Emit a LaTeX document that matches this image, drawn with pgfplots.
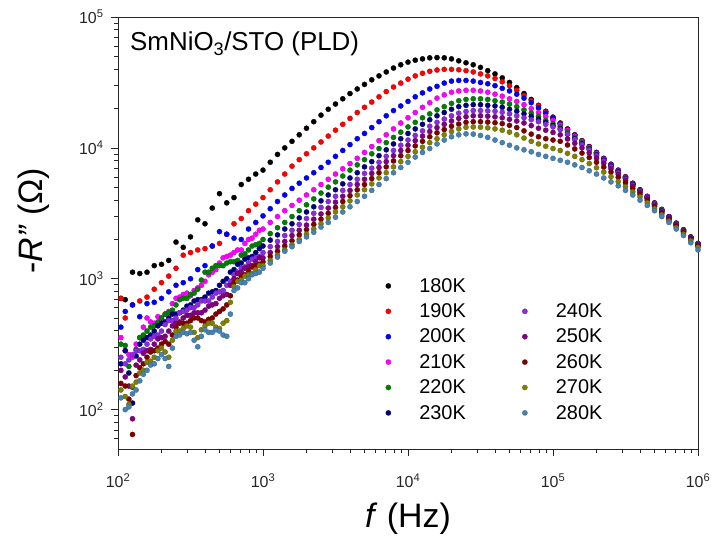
\documentclass[border=0pt]{standalone}
\usepackage{fontspec}
\setmainfont{Liberation Sans}
\usepackage{pgfplots}
\usepackage{pgfplotstable}
\pgfplotsset{compat=1.18}

\definecolor{c18}{RGB}{0,0,0}
\definecolor{c19}{RGB}{255,0,0}
\definecolor{c20}{RGB}{0,0,255}
\definecolor{c21}{RGB}{255,0,255}
\definecolor{c22}{RGB}{0,128,0}
\definecolor{c23}{RGB}{0,0,128}
\definecolor{c24}{RGB}{138,43,226}
\definecolor{c25}{RGB}{128,0,128}
\definecolor{c26}{RGB}{128,0,0}
\definecolor{c27}{RGB}{128,128,0}
\definecolor{c28}{RGB}{70,130,180}

% log10(f / Hz) and log10(-R'' / Ohm) for T = 180 ... 280 K
\pgfplotstableread{
lf    T180  T190  T200  T210  T220  T230  T240  T250  T260  T270  T280
2.02  2.85  2.85  2.63  2.55  2.50  2.35  2.40  2.30  2.20  2.15  2.09
2.05  2.84  2.70  2.75  2.45  2.49  2.45  2.35  2.25  2.18  2.10  2.00
2.075 nan   nan   nan   2.42  2.33  2.28  2.38  2.18  2.08  2.04  2.02
2.10  3.05  2.80  2.80  2.40  2.17  2.05  2.42  1.93  1.81  2.18  2.12
2.125 nan   nan   nan   2.50  2.46  2.41  2.45  2.34  2.26  2.21  2.15
2.15  3.04  2.83  2.71  2.55  2.55  2.50  2.45  2.38  2.32  2.28  2.22
2.175 nan   nan   nan   2.63  2.57  2.53  2.46  2.43  2.35  2.30  2.27
2.20  3.05  2.86  2.81  2.70  2.60  2.55  2.50  2.45  2.40  2.36  2.30
2.225 nan   nan   nan   2.67  2.63  2.57  2.54  2.46  2.44  2.37  2.34
2.25  3.10  2.92  2.82  2.66  2.64  2.60  2.56  2.50  2.45  2.40  2.35
2.275 nan   nan   nan   2.71  2.67  2.64  2.57  2.54  2.47  2.45  2.39
2.30  3.11  2.97  2.85  2.70  2.70  2.66  2.60  2.55  2.50  2.47  2.42
2.325 nan   nan   nan   2.73  2.73  2.67  2.65  2.56  2.52  2.44  2.39
2.35  3.14  3.02  2.90  2.75  2.74  2.70  2.68  2.60  2.50  2.40  2.33
2.375 nan   nan   nan   2.81  2.76  2.73  2.68  2.64  2.57  2.53  2.47
2.40  3.28  3.08  2.95  2.85  2.80  2.73  2.70  2.66  2.63  2.60  2.56
2.425 nan   nan   nan   2.86  2.84  2.74  2.74  2.67  2.66  2.60  2.57
2.45  3.24  3.18  2.97  2.88  2.85  2.76  2.75  2.70  2.66  2.62  2.59
2.475 nan   nan   nan   2.89  2.85  2.79  2.76  2.72  2.66  2.64  2.58
2.50  3.32  3.20  3.00  2.87  2.88  2.80  2.78  2.72  2.68  2.63  2.59
2.525 nan   nan   nan   2.91  2.89  2.83  2.78  2.74  2.70  2.59  2.53
2.55  3.45  3.22  3.07  2.93  2.92  2.84  2.80  2.74  2.70  2.55  2.48
2.575 nan   nan   nan   2.95  2.99  2.84  2.83  2.74  2.68  2.61  2.56
2.60  3.42  3.23  3.10  2.98  3.05  2.86  2.83  2.76  2.67  2.64  2.61
2.625 nan   nan   nan   3.03  3.05  2.89  2.83  2.79  2.69  2.66  2.59
2.65  3.54  3.25  3.25  3.05  3.08  2.90  2.86  2.80  2.70  2.66  2.59
2.675 nan   nan   nan   3.07  3.10  2.91  2.89  2.81  2.73  2.63  2.61
2.70  3.65  3.27  3.36  3.12  3.10  2.95  2.90  2.85  2.75  2.62  2.60
2.725 nan   nan   nan   3.16  3.10  2.98  2.91  2.87  2.77  2.66  2.57
2.75  3.58  3.34  3.34  3.17  3.12  3.00  2.95  2.88  2.80  2.68  2.56
2.775 nan   nan   nan   3.18  3.13  3.05  2.98  2.95  2.87  2.82  2.73
2.80  3.62  3.42  3.31  3.20  3.13  3.07  3.03  3.00  2.97  2.94  2.91
2.825 nan   nan   nan   3.22  3.14  3.11  3.05  3.04  2.99  2.98  2.93
2.85  3.72  3.46  3.30  3.22  3.18  3.12  3.08  3.05  3.02  2.99  2.97
2.875 nan   nan   nan   3.27  3.19  3.15  3.09  3.08  3.03  3.02  2.97
2.90  3.76  3.52  3.38  3.30  3.22  3.16  3.12  3.09  3.06  3.03  3.00
2.925 nan   nan   nan   3.31  3.25  3.17  3.15  3.10  3.09  3.04  3.03
2.95  3.80  3.57  3.43  3.34  3.26  3.20  3.16  3.13  3.10  3.07  3.04
2.975 nan   nan   nan   3.37  3.27  3.23  3.17  3.16  3.11  3.10  3.05
3.00  3.83  3.62  3.48  3.38  3.30  3.25  3.20  3.16  3.13  3.10  3.08
3.05  3.89  3.68  3.535 3.43  3.345 3.295 3.245 3.20  3.17  3.14  3.12
3.10  3.95  3.74  3.59  3.475 3.39  3.335 3.285 3.245 3.21  3.18  3.165
3.15  4.00  3.80  3.64  3.52  3.43  3.38  3.33  3.285 3.25  3.22  3.21
3.20  4.05  3.86  3.69  3.56  3.475 3.42  3.37  3.33  3.29  3.26  3.245
3.25  4.10  3.91  3.73  3.60  3.52  3.465 3.415 3.37  3.335 3.30  3.285
3.30  4.15  3.955 3.77  3.64  3.565 3.51  3.46  3.41  3.375 3.34  3.32
3.35  4.20  4.00  3.81  3.68  3.61  3.55  3.50  3.455 3.415 3.38  3.355
3.40  4.25  4.045 3.85  3.72  3.655 3.595 3.545 3.495 3.455 3.42  3.395
3.45  4.295 4.09  3.89  3.76  3.70  3.64  3.59  3.54  3.50  3.465 3.43
3.50  4.335 4.135 3.935 3.80  3.74  3.68  3.63  3.585 3.545 3.51  3.47
3.55  4.375 4.18  3.98  3.84  3.785 3.725 3.675 3.63  3.59  3.55  3.51
3.60  4.415 4.225 4.025 3.88  3.83  3.77  3.72  3.675 3.635 3.595 3.55
3.65  4.45  4.27  4.07  3.92  3.87  3.81  3.76  3.72  3.68  3.64  3.59
3.70  4.485 4.31  4.11  3.965 3.91  3.855 3.805 3.76  3.72  3.68  3.63
3.75  4.52  4.35  4.155 4.01  3.955 3.895 3.845 3.805 3.765 3.725 3.675
3.80  4.55  4.39  4.20  4.055 3.995 3.94  3.89  3.85  3.81  3.77  3.72
3.85  4.58  4.43  4.245 4.10  4.04  3.985 3.935 3.895 3.855 3.81  3.765
3.90  4.61  4.465 4.285 4.145 4.08  4.03  3.98  3.94  3.90  3.855 3.81
3.95  4.635 4.495 4.32  4.19  4.12  4.07  4.02  3.98  3.94  3.895 3.85
4.00  4.655 4.525 4.355 4.23  4.16  4.11  4.06  4.02  3.98  3.935 3.89
4.05  4.67  4.55  4.39  4.27  4.195 4.145 4.095 4.055 4.015 3.97  3.93
4.10  4.68  4.57  4.42  4.31  4.23  4.18  4.13  4.09  4.05  4.005 3.965
4.15  4.688 4.585 4.45  4.345 4.26  4.215 4.165 4.125 4.085 4.04  3.995
4.20  4.69  4.595 4.47  4.38  4.29  4.245 4.195 4.155 4.115 4.07  4.03
4.25  4.688 4.60  4.495 4.405 4.315 4.27  4.22  4.18  4.14  4.10  4.06
4.30  4.68  4.60  4.51  4.425 4.34  4.295 4.245 4.205 4.165 4.125 4.085
4.35  4.665 4.597 4.515 4.435 4.36  4.315 4.265 4.225 4.182 4.145 4.10
4.40  4.65  4.59  4.515 4.44  4.37  4.325 4.278 4.238 4.195 4.157 4.107
4.45  4.635 4.58  4.51  4.44  4.375 4.33  4.285 4.245 4.20  4.16  4.105
4.50  4.615 4.565 4.50  4.435 4.375 4.33  4.285 4.245 4.20  4.158 4.095
4.55  4.59  4.55  4.49  4.425 4.37  4.325 4.283 4.242 4.197 4.153 4.08
4.60  4.565 4.53  4.475 4.41  4.36  4.32  4.28  4.237 4.192 4.145 4.06
4.65  4.535 4.505 4.455 4.395 4.35  4.31  4.272 4.23  4.185 4.135 4.04
4.70  4.50  4.475 4.435 4.375 4.335 4.295 4.26  4.218 4.172 4.12  4.02
4.75  4.46  4.44  4.41  4.355 4.315 4.28  4.245 4.205 4.155 4.10  4.00
4.80  4.415 4.40  4.38  4.33  4.29  4.26  4.23  4.19  4.13  4.075 3.985
4.85  4.37  4.36  4.345 4.30  4.265 4.24  4.215 4.17  4.105 4.05  3.97
4.90  4.325 4.32  4.305 4.27  4.24  4.22  4.20  4.15  4.085 4.03  3.95
4.95  4.28  4.275 4.265 4.24  4.21  4.195 4.18  4.135 4.07  4.012 3.935
5.00  4.235 4.23  4.225 4.21  4.185 4.17  4.16  4.118 4.06  3.995 3.92
5.05  4.19  4.187 4.183 4.175 4.16  4.145 4.14  4.10  4.05  3.98  3.905
5.10  4.145 4.143 4.14  4.135 4.12  4.105 4.105 4.068 4.022 3.958 3.89
5.15  4.10  4.098 4.096 4.09  4.08  4.07  4.065 4.035 3.992 3.935 3.87
5.20  4.055 4.053 4.051 4.048 4.04  4.03  4.025 4.00  3.96  3.91  3.85
5.25  4.01  4.008 4.006 4.003 3.995 3.99  3.985 3.962 3.926 3.88  3.825
5.30  3.965 3.963 3.961 3.958 3.95  3.945 3.94  3.922 3.89  3.848 3.80
5.35  3.92  3.918 3.916 3.913 3.91  3.905 3.90  3.882 3.853 3.815 3.77
5.40  3.875 3.873 3.871 3.868 3.865 3.86  3.855 3.84  3.815 3.78  3.74
5.45  3.83  3.828 3.826 3.823 3.82  3.815 3.81  3.797 3.775 3.742 3.71
5.50  3.78  3.778 3.776 3.774 3.77  3.765 3.762 3.752 3.733 3.703 3.675
5.55  3.73  3.728 3.726 3.724 3.72  3.72  3.715 3.706 3.69  3.664 3.64
5.60  3.68  3.678 3.676 3.674 3.672 3.67  3.668 3.66  3.645 3.625 3.60
5.65  3.63  3.628 3.626 3.624 3.62  3.618 3.617 3.61  3.598 3.58  3.56
5.70  3.58  3.578 3.576 3.574 3.57  3.567 3.566 3.56  3.55  3.535 3.52
5.75  3.53  3.528 3.526 3.524 3.52  3.517 3.515 3.51  3.50  3.488 3.475
5.80  3.475 3.473 3.472 3.47  3.468 3.466 3.464 3.46  3.45  3.44  3.43
5.85  3.425 3.423 3.422 3.42  3.417 3.415 3.412 3.408 3.40  3.39  3.38
5.90  3.375 3.373 3.372 3.37  3.366 3.363 3.36  3.357 3.35  3.34  3.33
5.95  3.32  3.318 3.317 3.315 3.315 3.312 3.31  3.306 3.30  3.29  3.275
6.00  3.27  3.268 3.267 3.265 3.263 3.26  3.258 3.255 3.25  3.24  3.22
}\Rdata

\pgfplotsset{
  sp/.style={only marks, mark=*, mark size=2.6pt, color=#1,
    mark options={fill=#1, draw=#1!75!black, line width=0.3bp}},
}

\begin{document}
\begin{tikzpicture}
\useasboundingbox (-118bp,-87bp) rectangle (597bp,449bp);
\begin{axis}[
  at={(0,0)}, anchor=south west,
  scale only axis, width=580bp, height=432bp,
  xmin=2, xmax=6, ymin=1.69897, ymax=5,
  axis line style={line width=0.8bp, black!85},
  tick style={line width=0.7bp, black!85},
  tick align=outside, tick pos=left,
  major tick length=7bp, minor tick length=4bp,
  xtick={2,3,4,5,6},
  xticklabels={10\textsuperscript{2},10\textsuperscript{3},10\textsuperscript{4},10\textsuperscript{5},10\textsuperscript{6}},
  ytick={2,3,4,5},
  yticklabels={10\textsuperscript{2},10\textsuperscript{3},10\textsuperscript{4},10\textsuperscript{5}},
  minor xtick={2.301,2.477,2.602,2.699,2.778,2.845,2.903,2.954,
               3.301,3.477,3.602,3.699,3.778,3.845,3.903,3.954,
               4.301,4.477,4.602,4.699,4.778,4.845,4.903,4.954,
               5.301,5.477,5.602,5.699,5.778,5.845,5.903,5.954},
  minor ytick={1.778,1.845,1.903,1.954,
               2.301,2.477,2.602,2.699,2.778,2.845,2.903,2.954,
               3.301,3.477,3.602,3.699,3.778,3.845,3.903,3.954,
               4.301,4.477,4.602,4.699,4.778,4.845,4.903,4.954},
  ticklabel style={font=\fontsize{16}{19}\selectfont, text=black!85},
  xticklabel style={yshift=-14bp},
  yticklabel style={xshift=-4bp},
  xlabel={\textit{f} (Hz)},
  ylabel={-\textit{R"} (Ω)},
  x label style={at={(axis description cs:0.5,-0.1806)}, anchor=base, font=\fontsize{34}{40}\selectfont},
  y label style={at={(axis description cs:-0.131,0.528)}, anchor=base, font=\fontsize{34}{40}\selectfont},
  legend cell align=left,
  legend columns=2,
  legend style={draw=none, fill=none, at={(0.452,0.405)}, anchor=north west,
    font=\fontsize{20}{24}\selectfont, row sep=6bp,
    /tikz/every even column/.append style={column sep=52bp}},
  legend image code/.code={\path[draw=none,fill=none] (0bp,0bp) -- (34bp,0bp);
    \draw[mark repeat=2,mark phase=2,#1] plot coordinates {(0bp,0bp) (5bp,0bp) (34bp,0bp)};},
]
\addplot[sp=c18, forget plot] table[x=lf, y=T180] {\Rdata};
\addplot[sp=c19, forget plot] table[x=lf, y=T190] {\Rdata};
\addplot[sp=c20, forget plot] table[x=lf, y=T200] {\Rdata};
\addplot[sp=c21, forget plot] table[x=lf, y=T210] {\Rdata};
\addplot[sp=c22, forget plot] table[x=lf, y=T220] {\Rdata};
\addplot[sp=c23, forget plot] table[x=lf, y=T230] {\Rdata};
\addplot[sp=c24, forget plot] table[x=lf, y=T240] {\Rdata};
\addplot[sp=c25, forget plot] table[x=lf, y=T250] {\Rdata};
\addplot[sp=c26, forget plot] table[x=lf, y=T260] {\Rdata};
\addplot[sp=c27, forget plot] table[x=lf, y=T270] {\Rdata};
\addplot[sp=c28, forget plot] table[x=lf, y=T280] {\Rdata};

\addlegendimage{sp=c18}\addlegendentry{180K}
\addlegendimage{empty legend}\addlegendentry{}
\addlegendimage{sp=c19}\addlegendentry{190K}
\addlegendimage{sp=c24}\addlegendentry{240K}
\addlegendimage{sp=c20}\addlegendentry{200K}
\addlegendimage{sp=c25}\addlegendentry{250K}
\addlegendimage{sp=c21}\addlegendentry{210K}
\addlegendimage{sp=c26}\addlegendentry{260K}
\addlegendimage{sp=c22}\addlegendentry{220K}
\addlegendimage{sp=c27}\addlegendentry{270K}
\addlegendimage{sp=c23}\addlegendentry{230K}
\addlegendimage{sp=c28}\addlegendentry{280K}

\node[anchor=base west, inner sep=0pt, font=\fontsize{26}{31}\selectfont]
  at (axis description cs:0.0207,0.9213) {SmNiO\textsubscript{3}/STO (PLD)};
\end{axis}
\end{tikzpicture}
\end{document}
